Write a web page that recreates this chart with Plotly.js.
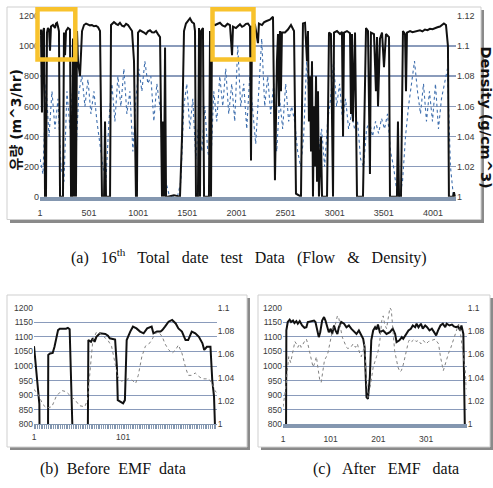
<!DOCTYPE html>
<html><head><meta charset="utf-8">
<script src="https://cdn.plot.ly/plotly-3.0.1.min.js"></script>
<style>html,body{margin:0;padding:0;background:#fff;overflow:hidden}#chart{width:493px;height:488px}</style>
</head><body><div id="chart"></div>
<script>
// ---------- (a) 16th total date test data ----------
const flowAX = [1,11,21,32,42,52,62,72,82,93,103,113,133,154,164,174,184,194,205,235,245,256,266,286,306,317,327,337,347,357,367,378,388,408,429,449,470,490,510,530,551,571,592,612,632,653,663,673,714,724,739,754,775,795,815,836,856,877,897,918,938,958,978,988,999,1019,1039,1060,1080,1100,1121,1141,1162,1182,1202,1223,1243,1253,1263,1274,1284,1304,1365,1426,1447,1467,1487,1508,1528,1548,1569,1579,1589,1609,1620,1630,1640,1660,1671,1721,1732,1742,1752,1783,1808,1833,1858,1884,1910,1935,1956,1966,1996,2017,2037,2058,2078,2098,2118,2139,2149,2159,2190,2220,2230,2261,2281,2302,2322,2342,2373,2393,2413,2424,2434,2444,2454,2464,2495,2525,2556,2587,2607,2658,2678,2699,2719,2729,2739,2750,2760,2770,2780,2790,2801,2811,2821,2831,2841,2862,2872,2923,2943,2963,2984,2994,3024,3055,3075,3086,3096,3126,3157,3167,3177,3187,3208,3228,3289,3320,3340,3360,3370,3401,3421,3432,3442,3462,3483,3503,3523,3554,3564,3635,3645,3656,3676,3696,3717,3727,3737,3768,3793,3819,3844,3869,3895,3920,3946,3971,3997,4022,4047,4073,4093,4113,4134,4154,4164,4205,4215,4225];
const flowAY = [1070,1110,560,1100,1120,0,0,1090,1120,1110,970,1130,1140,1120,1150,1155,1130,1100,0,0,1090,940,1100,1120,1110,0,0,1050,0,1080,0,1100,900,800,1100,1140,1150,1145,1138,1140,1132,1135,1125,1100,0,0,500,0,0,1140,1152,1160,1148,1140,1155,1135,1130,1148,1140,1120,1100,900,0,0,1090,1105,1100,1090,1080,1098,1105,1092,1090,1100,1080,1060,0,500,0,990,0,0,10,0,400,1100,1150,1170,1185,1160,1150,1100,0,0,1120,0,1100,1120,0,0,1100,0,1150,1140,1150,1155,1138,1130,1148,1140,940,1130,1120,1135,1145,1128,1135,1148,1150,1130,240,1130,1140,1020,1150,1140,1158,1165,1170,1175,1195,110,900,1080,600,1100,700,1090,1090,1110,1140,1100,20,0,1150,1155,900,1100,500,800,300,900,0,600,200,800,100,700,0,400,0,0,1090,1080,0,1090,1100,1080,1095,400,1090,1100,1085,550,1080,500,1090,0,0,1120,1100,150,1090,1080,700,1060,600,1050,1090,860,1080,1060,0,0,500,0,0,1100,1080,700,1090,1100,1092,1095,1102,1105,1098,1110,1106,1115,1112,1120,1125,1130,1138,1150,1140,1000,0,0,30,0];
const densAY = [1.025,1.015,1.075,1.040,1.070,1.045,1.065,1.020,1.010,1.070,
  1.045,1.075,1.030,1.070,1.080,1.060,1.078,1.055,1.070,1.050,
  1.035,1.020,1.010,1.050,1.075,1.050,1.080,1.060,1.085,1.055,
  1.070,1.030,1.065,1.085,1.070,1.090,1.075,1.080,1.050,1.075,
  1.060,1.040,1.010,1.002,1.000,1.000,1.001,1.010,1.060,1.075,
  1.045,1.065,1.025,1.050,1.030,1.060,1.030,1.020,1.070,1.050,
  1.080,1.060,1.085,1.055,1.075,1.050,1.100,1.060,1.075,1.045,
  1.080,1.060,1.035,1.070,1.105,1.060,1.080,1.055,1.075,1.030,
  1.065,1.045,1.075,1.050,1.060,1.050,1.030,1.020,1.040,1.090,
  1.060,1.040,1.055,1.030,1.045,1.020,1.050,1.065,1.090,1.060,
  1.075,1.050,1.065,1.045,1.055,1.045,1.050,1.025,1.020,1.045,
  1.050,1.040,1.050,1.042,1.052,1.045,1.055,1.030,1.020,1.005,
  1.000,1.010,1.040,1.060,1.075,1.090,1.070,1.055,1.075,1.050,
  1.070,1.050,1.075,1.045,1.065,1.075,1.085,1.020,1.000];
const densAStep = 30.5; // sampling interval of the density readings (record index)
const densAX = densAY.map((v, i) => 1 + i * densAStep);
const xTicksA = [1,501,1001,1501,2001,2501,3001,3501,4001];
const flowTicksA = [0,200,400,600,800,1000,1200];
const densTicksA = [1,1.02,1.04,1.06,1.08,1.1,1.12];
const densTickTextA = ['1','1.02','1.04','1.06','1.08','1.1','1.12'];

// ---------- (b) before EMF ----------
const flowBX = [1,4,7,9,16,17,19,22,24,28,30,37,39,41,44,45,60,62,65,67,69,71,75,81,84,86,92,94,95,101,103,105,107,109,112,116,120,124,128,133,135,139,143,145,148,152,156,160,163,167,171,174,178,182,186,190,192,195,199,201,203,204];
const flowBY = [1068,960,870,0,0,1038,1043,1045,1066,1123,1128,1128,1131,1126,800,0,0,1089,1083,1095,1083,1100,1112,1110,1104,1095,1091,998,883,872,883,1089,1106,1118,1135,1129,1118,1112,1129,1135,1112,1118,1118,1123,1135,1152,1158,1146,1129,1118,1089,1089,1118,1112,1100,1078,1055,1066,1066,952,895,800];
const densBX = [1,6,11,15,21,26,32,37,41,47,52,58,61,64,67,71,75,81,84,88,92,95,99,103,107,111,115,118,122,126,130,133,137,141,145,148,152,156,160,163,167,171,174,178,182,186,190,193,197,201,204,206];
const densBY = [1.030,1.025,1.017,1.014,1.015,1.024,1.029,1.028,1.025,1.021,1.016,1.015,1.021,1.049,1.072,1.079,1.078,1.074,1.072,1.067,1.052,1.041,1.037,1.038,1.039,1.038,1.035,1.042,1.058,1.067,1.069,1.072,1.078,1.079,1.075,1.069,1.064,1.061,1.064,1.068,1.061,1.049,1.042,1.042,1.044,1.041,1.039,1.039,1.039,1.035,1.029,1.027];
const xTicksB = [1,101];

// ---------- (c) after EMF ----------
const flowCX = [1,6,8,11,15,18,22,25,29,32,36,41,46,50,53,60,66,69,73,76,79,83,87,90,94,97,101,104,108,111,115,118,123,129,134,139,144,150,155,160,164,169,172,174,176,179,183,186,190,194,197,200,204,211,218,225,231,236,239,245,250,253,259,264,269,273,278,281,285,290,294,299,303,308,313,317,322,326,331,336,341,344,350,355,359,364,368,372,375,379,382,383];
const flowCY = [0,0,1122,1151,1159,1151,1156,1147,1154,1145,1154,1139,1131,1133,1151,1154,1156,1151,1122,1099,1116,1156,1168,1156,1133,1116,1128,1110,1139,1122,1110,1133,1151,1145,1133,1139,1128,1116,1110,1122,1110,1093,1065,996,893,887,961,1088,1122,1133,1125,1142,1116,1122,1110,1116,1128,1110,1082,1088,1099,1093,1110,1122,1128,1139,1133,1145,1133,1145,1128,1139,1133,1122,1128,1116,1105,1122,1139,1145,1133,1145,1139,1142,1136,1133,1136,1122,1139,1110,800,0];
const densCX = [1,6,10,13,17,22,26,29,32,36,39,46,50,53,57,60,64,67,71,74,78,81,85,88,92,95,99,102,106,111,115,118,122,125,129,134,137,143,148,153,157,161,165,169,172,175,179,182,186,190,197,200,204,208,211,214,218,221,225,228,232,235,239,242,246,249,253,259,264,267,271,276,280,285,290,295,301,306,313,320,327,331,337,342,348,353,358,363,369,372,378,383,385];
const densCY = [1.015,1.029,1.046,1.058,1.053,1.062,1.071,1.069,1.066,1.069,1.066,1.071,1.073,1.069,1.061,1.055,1.049,1.052,1.058,1.049,1.038,1.036,1.046,1.055,1.058,1.061,1.069,1.075,1.083,1.086,1.093,1.091,1.083,1.075,1.071,1.066,1.065,1.066,1.069,1.066,1.069,1.062,1.058,1.063,1.069,1.043,1.023,1.028,1.038,1.049,1.058,1.062,1.072,1.089,1.093,1.086,1.082,1.091,1.100,1.098,1.081,1.063,1.055,1.049,1.045,1.046,1.051,1.061,1.071,1.073,1.071,1.073,1.071,1.072,1.069,1.072,1.069,1.071,1.072,1.073,1.069,1.058,1.046,1.053,1.061,1.066,1.072,1.079,1.086,1.081,1.063,1.046,1.030];
const xTicksC = [1,101,201,301];
const flowTicksBC = [800,850,900,950,1000,1050,1100,1150,1200];
const densTicksBC = [1,1.02,1.04,1.06,1.08,1.1];
const densTickTextBC = ['1','1.02','1.04','1.06','1.08','1.1'];

// ---------- layout helpers ----------
const W = 493, H = 488;
const X = p => p / W, Y = p => 1 - p / H;
const NARROW = '"Liberation Sans Narrow","Arial Narrow","Liberation Sans",Arial,sans-serif';
const tickFont = {family: NARROW, size: 9, color: '#3a3a3a'};
const tickFontS = {family: NARROW, size: 8.5, color: '#3a3a3a'};
const GRID = '#8a9bbb', AXIS = '#8497b0';
const black = {color: '#111', width: 2};

const traces = [
  {x: densAX, y: densAY, xaxis: 'x', yaxis: 'y', type: 'scatter', mode: 'lines', line: {color: '#3f6fae', width: 1.1, dash: 'dot'}},
  {x: flowAX, y: flowAY, xaxis: 'x', yaxis: 'y2', type: 'scatter', mode: 'lines', line: black},
  {x: flowBX, y: flowBY, xaxis: 'x2', yaxis: 'y3', type: 'scatter', mode: 'lines', line: black},
  {x: densBX, y: densBY, xaxis: 'x2', yaxis: 'y4', type: 'scatter', mode: 'lines', line: {color: '#808080', width: 1, dash: 'dot'}},
  {x: flowCX, y: flowCY, xaxis: 'x3', yaxis: 'y5', type: 'scatter', mode: 'lines', line: black},
  {x: densCX, y: densCY, xaxis: 'x3', yaxis: 'y6', type: 'scatter', mode: 'lines', line: {color: '#808080', width: 1, dash: 'dot'}}
];

function rect(x0, y0, x1, y1, opts) {
  return Object.assign({type: 'rect', xref: 'paper', yref: 'paper', x0: X(x0), x1: X(x1), y0: Y(y1), y1: Y(y0), layer: 'below'}, opts);
}
const shapes = [
  rect(10, 10, 484, 223, {fillcolor: '#8a8a8a', line: {width: 0}}),
  rect(7, 7, 481, 219.5, {fillcolor: '#ffffff', line: {color: '#cfcfcf', width: 1}}),
  rect(10, 298, 250, 450, {fillcolor: '#8a8a8a', line: {width: 0}}),
  rect(7, 295, 247, 447, {fillcolor: '#ffffff', line: {color: '#cfcfcf', width: 1}}),
  rect(261, 298, 493, 450, {fillcolor: '#8a8a8a', line: {width: 0}}),
  rect(258, 295, 490, 447, {fillcolor: '#ffffff', line: {color: '#cfcfcf', width: 1}}),
  rect(37.5, 9.2, 75.3, 59.5, {layer: 'above', fillcolor: 'rgba(0,0,0,0)', line: {color: '#f8c22c', width: 4.5}}),
  rect(212.5, 9.2, 253.5, 59.5, {layer: 'above', fillcolor: 'rgba(0,0,0,0)', line: {color: '#f8c22c', width: 4.5}})
];

const serif = '"Liberation Serif","Times New Roman",serif';
const G = '\u00a0\u00a0 ';   // wide word gap as in the reference caption
const ann = (x, y, text, extra) => Object.assign({xref: 'paper', yref: 'paper', x: X(x), y: Y(y), text: text,
  showarrow: false, xanchor: 'center', yanchor: 'middle'}, extra);
const annotations = [
  ann(15, 120.5, '유량 (m^3/hr)', {textangle: -90,
    font: {family: '"DejaVu Sans","Noto Sans CJK KR",sans-serif', size: 14, color: '#111', weight: 'bold'}}),
  ann(485.5, 117, 'Density (g/cm^3)', {textangle: 90,
    font: {family: '"DejaVu Sans",sans-serif', size: 14.5, color: '#111', weight: 'bold'}}),
  ann(249, 256, '(a)' + G + '16<sup>th</sup>' + G + 'Total' + G + 'date' + G + 'test' + G + 'Data' + G + '(Flow' + G + '&' + G + 'Density)',
    {font: {family: serif, size: 16, color: '#111'}}),
  ann(112.5, 469, '(b)\u00a0 Before\u00a0 EMF\u00a0 data', {font: {family: serif, size: 16, color: '#111'}}),
  ann(385.5, 469, '(c)' + G + 'After' + G + 'EMF' + G + 'data', {font: {family: serif, size: 16, color: '#111'}})
];

const layout = {
  width: W, height: H, margin: {l: 0, r: 0, t: 0, b: 0},
  paper_bgcolor: '#ffffff', plot_bgcolor: 'rgba(0,0,0,0)', showlegend: false,
  xaxis: {domain: [X(40), X(456)], range: [1, 4236], anchor: 'y', tickmode: 'array', tickvals: xTicksA, ticktext: xTicksA.map(String),
    showgrid: false, zeroline: false, showline: true, linecolor: AXIS, linewidth: 4, ticks: 'outside', ticklen: 4, tickcolor: 'rgba(0,0,0,0)', tickfont: tickFont},
  yaxis: {domain: [Y(196.7), Y(16)], range: [1, 1.12], anchor: 'x', side: 'right', tickmode: 'array', tickvals: densTicksA, ticktext: densTickTextA,
    showgrid: true, gridcolor: GRID, gridwidth: 1.6, zeroline: false, showline: false, ticks: '', tickfont: tickFont},
  yaxis2: {overlaying: 'y', anchor: 'x', side: 'left', range: [0, 1200], tickmode: 'array', tickvals: flowTicksA, ticktext: flowTicksA.map(String),
    showgrid: false, zeroline: false, showline: false, ticks: '', tickfont: tickFont},
  xaxis2: {domain: [X(34), X(216.7)], range: [1, 206], anchor: 'y3', tickmode: 'array', tickvals: xTicksB, ticktext: xTicksB.map(String),
    showgrid: false, zeroline: false, showline: true, linecolor: AXIS, linewidth: 1, ticks: 'outside', ticklen: 4, tickcolor: AXIS, tickfont: tickFontS,
    minor: {tickmode: 'linear', tick0: 1, dtick: 2, ticks: 'outside', ticklen: 4, tickwidth: 1, tickcolor: AXIS, showgrid: false}},
  yaxis3: {domain: [Y(424.3), Y(307.7)], range: [800, 1200], anchor: 'x2', tickmode: 'array', tickvals: flowTicksBC, ticktext: flowTicksBC.map(String),
    showgrid: true, gridcolor: GRID, gridwidth: 1, zeroline: false, showline: false, ticks: '', tickfont: tickFontS},
  yaxis4: {overlaying: 'y3', anchor: 'x2', side: 'right', range: [1, 1.1], tickmode: 'array', tickvals: densTicksBC, ticktext: densTickTextBC,
    showgrid: false, zeroline: false, showline: false, ticks: '', tickfont: tickFontS},
  xaxis3: {domain: [X(283), X(466.7)], range: [1, 386], anchor: 'y5', tickmode: 'array', tickvals: xTicksC, ticktext: xTicksC.map(String),
    showgrid: false, zeroline: false, showline: true, linecolor: AXIS, linewidth: 4, ticks: 'outside', ticklen: 3, tickcolor: 'rgba(0,0,0,0)', tickfont: tickFontS},
  yaxis5: {domain: [Y(424.3), Y(307.7)], range: [800, 1200], anchor: 'x3', tickmode: 'array', tickvals: flowTicksBC, ticktext: flowTicksBC.map(String),
    showgrid: true, gridcolor: GRID, gridwidth: 1, zeroline: false, showline: false, ticks: '', tickfont: tickFontS},
  yaxis6: {overlaying: 'y5', anchor: 'x3', side: 'right', range: [1, 1.1], tickmode: 'array', tickvals: densTicksBC, ticktext: densTickTextBC,
    showgrid: false, zeroline: false, showline: false, ticks: '', tickfont: tickFontS},
  shapes: shapes,
  annotations: annotations
};

Plotly.newPlot('chart', traces, layout, {staticPlot: true, displayModeBar: false});
</script>
</body></html>
